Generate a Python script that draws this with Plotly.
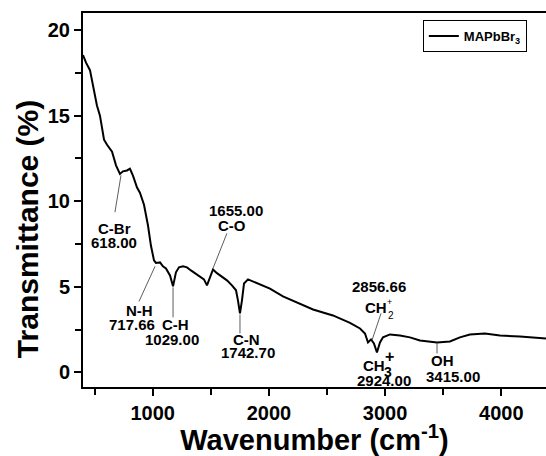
import plotly.graph_objects as go

# Data
wavenumber = [400, 426, 460, 486, 520, 546, 581, 607, 650, 684, 718, 744, 779, 804, 830, 865, 890, 925,
              959, 985, 1011, 1028, 1063, 1088, 1114, 1149, 1175, 1200, 1226, 1261, 1295, 1329, 1364, 1407,
              1441, 1467, 1493, 1519, 1553, 1596, 1639, 1682, 1717, 1734, 1751, 1768, 1786, 1820, 1863,
              1923, 2009, 2121, 2267, 2380, 2551, 2698, 2784, 2827, 2853, 2879, 2904, 2930, 2956, 2982,
              3042, 3128, 3214, 3300, 3447, 3558, 3644, 3730, 3859, 3989, 4161, 4385]
transmittance = [18.54, 18.1, 17.66, 16.8, 15.6, 15.0, 13.6, 13.3, 12.9, 12.1, 11.6, 11.75, 11.8, 11.9, 11.5,
                 10.8, 10.5, 9.8, 8.6, 7.4, 6.55, 6.4, 6.43, 6.2, 6.08, 5.67, 5.03, 5.85, 6.14, 6.2, 6.14,
                 5.96, 5.8, 5.6, 5.44, 5.09, 5.5, 6.02, 5.8, 5.6, 5.38, 5.09, 4.8, 4.2, 3.45, 4.2, 5.2, 5.44,
                 5.32, 5.15, 4.9, 4.44, 4.03, 3.68, 3.33, 2.9, 2.57, 2.28, 1.75, 1.93, 1.7, 1.17, 1.75, 2.05,
                 2.22, 2.16, 2.05, 1.87, 1.75, 1.81, 2.05, 2.22, 2.28, 2.16, 2.1, 1.99]
series_name = "MAPbBr<sub>3</sub>"
x_ticks = [1000, 2000, 3000, 4000]
y_ticks = [0, 5, 10, 15, 20]

FONT = "Liberation Sans, Arial, sans-serif"

fig = go.Figure()
fig.add_trace(go.Scatter(x=wavenumber, y=transmittance, mode="lines", name=series_name,
                         line=dict(color="black", width=2), showlegend=True))

# text labels: (text, x, y, size)
labels = [
    ("C-Br", 675, 8.42, 15), ("618.00", 667, 7.6, 15),
    ("1655.00", 1717, 9.47, 15), ("C-O", 1682, 8.6, 15),
    ("N-H", 882, 3.63, 15), ("717.66", 822, 2.81, 15),
    ("C-H", 1200, 2.81, 15), ("1029.00", 1166, 1.93, 15),
    ("C-N", 1811, 1.93, 15), ("1742.70", 1820, 1.17, 15),
    ("2856.66", 2947, 5.0, 15), ("CH", 2922, 3.8, 15),
    ("CH", 2905, 0.4, 15), ("2924.00", 2990, -0.47, 15),
    ("OH", 3490, 0.7, 15), ("3415.00", 3584, -0.23, 15),
]
for t, x, y, s in labels:
    fig.add_annotation(x=x, y=y, text=t, showarrow=False, xref="x", yref="y",
                       font=dict(family=FONT, size=s, color="black", weight="bold"))

# small sub/superscripts of CH2+ and CH3+
small = [
    ("+", 3040, 4.1, 9, "normal"), ("2", 3050, 3.3, 10, "normal"),
    ("3", 3025, 0.05, 14, "bold"), ("+", 3035, 0.95, 16, "bold"),
]
for t, x, y, s, w in small:
    fig.add_annotation(x=x, y=y, text=t, showarrow=False, xref="x", yref="y",
                       font=dict(family=FONT, size=s, color="black", weight=w))

# leader lines: (x_tail, y_tail, x_head, y_head)
leaders = [
    (675, 9.36, 727, 11.52),
    (1639, 8.13, 1519, 6.08),
    (882, 4.15, 1020, 6.2),
    (1175, 4.97, 1175, 3.22),
    (1751, 3.39, 1751, 2.28),
    (2965, 3.45, 2887, 1.87),
    (3447, 1.75, 3447, 1.11),
]
for x0, y0, x1, y1 in leaders:
    fig.add_shape(type="line", x0=x0, y0=y0, x1=x1, y1=y1, xref="x", yref="y",
                  line=dict(color="#333333", width=0.8))

# y-axis title (placed as in the reference, slightly below centre)
fig.add_annotation(x=-0.121, y=0.422, xref="paper", yref="paper", text="Transmittance (%)",
                   textangle=-90, showarrow=False, xanchor="center", yanchor="middle",
                   font=dict(family=FONT, size=30, color="black", weight="bold"))

axis_common = dict(showline=True, linecolor="black", linewidth=2, ticks="outside",
                   ticklen=7, tickwidth=1.5, tickcolor="black", showgrid=False, zeroline=False,
                   tickfont=dict(family=FONT, size=20, color="black", weight="bold"))

fig.update_xaxes(range=[400, 4385], tickvals=x_ticks, mirror=True,
                 minor=dict(tickvals=[500, 1500, 2500, 3500], ticklen=6, tickwidth=1.5,
                            tickcolor="black", ticks="outside"),
                 title=dict(text="Wavenumber (cm<sup>-1</sup>)", standoff=10,
                            font=dict(family=FONT, size=29, color="black", weight="bold")),
                 **axis_common)
fig.update_yaxes(range=[-0.85, 21.0], tickvals=y_ticks, mirror=False,
                 minor=dict(tickvals=[2.5, 7.5, 12.5, 17.5], ticklen=6, tickwidth=1.5,
                            tickcolor="black", ticks="outside"),
                 **axis_common)

fig.update_layout(
    width=546, height=456,
    margin=dict(l=83, r=0, t=13, b=69),
    plot_bgcolor="white", paper_bgcolor="white",
    showlegend=True,
    legend=dict(x=0.734, y=0.981, xanchor="left", yanchor="top",
                bordercolor="black", borderwidth=1, bgcolor="white",
                font=dict(family=FONT, size=13, color="black", weight="bold"),
                itemwidth=30, tracegroupgap=0),
)

fig.write_html("out.html")
